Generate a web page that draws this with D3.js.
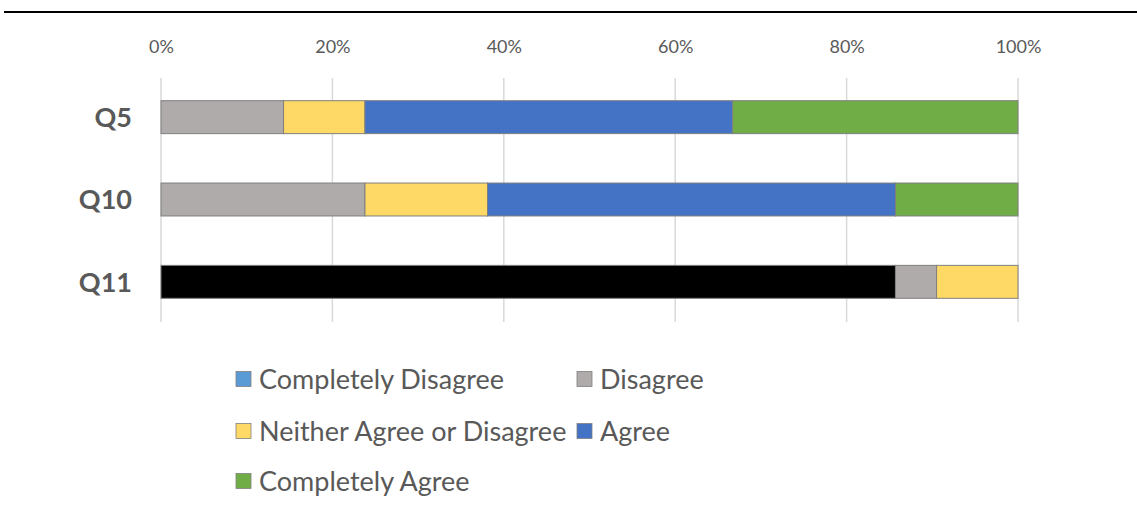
<!DOCTYPE html>
<html>
<head>
<meta charset="utf-8">
<script src="https://cdn.jsdelivr.net/npm/d3@7"></script>
<style>
  body { margin: 0; background: #fff; }
  svg { display: block; font-family: Lato, "Open Sans", sans-serif; }
</style>
</head>
<body>
<svg id="chart" width="1137" height="516"></svg>
<script>
// data (percent, n = 21)
const questions = ["Q5", "Q10", "Q11"];
const seriesNames = ["Completely Disagree", "Disagree", "Neither Agree or Disagree", "Agree", "Completely Agree"];
const completelyDisagree = [0, 0, 85.7];
const disagree = [14.3, 23.8, 4.8];
const neither = [9.5, 14.3, 9.5];
const agree = [42.9, 47.6, 0];
const completelyAgree = [33.3, 14.3, 0];
const tickValues = [0, 20, 40, 60, 80, 100];

const colors = ["#5B9BD5", "#AFABAB", "#FFD966", "#4472C4", "#70AD47"];
// Q11 "Completely Disagree" point was recoloured black in the original
const pointOverride = { "0-Q11": "#000000" };

const svg = d3.select("#chart");
const width = 1137, height = 516;

// top rule
svg.append("line")
  .attr("x1", 4).attr("x2", width).attr("y1", 12).attr("y2", 12)
  .attr("stroke", "#000").attr("stroke-width", 2);

const x = d3.scaleLinear().domain([0, 100]).range([161, 1018]);
const y = d3.scaleBand().domain(questions).range([76, 323]).paddingInner(0.6).paddingOuter(0.3);

// gridlines
svg.append("g")
  .selectAll("line")
  .data(tickValues)
  .join("line")
  .attr("x1", d => x(d)).attr("x2", d => x(d))
  .attr("y1", 78).attr("y2", 322)
  .attr("stroke", "#d9d9d9").attr("stroke-width", 1.5);

// top axis labels
const axis = svg.append("g")
  .attr("transform", "translate(0,53)")
  .call(d3.axisTop(x).tickValues(tickValues).tickFormat(d => d + "%").tickSize(0).tickPadding(0));
axis.select(".domain").remove();
axis.attr("font-size", 18).attr("font-family", "Lato, 'Open Sans', sans-serif");
axis.selectAll("text").attr("fill", "#595959");

// stacked bars
const rows = questions.map((q, i) => ({
  q: q,
  v: [completelyDisagree[i], disagree[i], neither[i], agree[i], completelyAgree[i]]
}));
const stack = d3.stack().keys(d3.range(seriesNames.length)).value((d, k) => d.v[k]);
const layers = stack(rows);

svg.append("g")
  .selectAll("g")
  .data(layers)
  .join("g")
  .selectAll("rect")
  .data(layer => layer.map(p => ({ key: layer.key, p: p })))
  .join("rect")
  .filter(d => d.p[1] - d.p[0] > 0)
  .attr("x", d => x(d.p[0]))
  .attr("width", d => x(d.p[1]) - x(d.p[0]))
  .attr("y", d => y(d.p.data.q))
  .attr("height", y.bandwidth())
  .attr("fill", d => pointOverride[d.key + "-" + d.p.data.q] || colors[d.key])
  .attr("stroke", "#7f7f7f")
  .attr("stroke-width", 1);

// category labels
svg.append("g")
  .selectAll("text")
  .data(questions)
  .join("text")
  .attr("x", 132)
  .attr("y", d => y(d) + y.bandwidth() / 2)
  .attr("dy", "0.36em")
  .attr("text-anchor", "end")
  .attr("font-size", 27)
  .attr("font-weight", "bold")
  .attr("fill", "#595959")
  .text(d => d);

// legend
const legendPos = [
  [236, 379], [577, 379],
  [236, 431], [577, 431],
  [236, 481]
];
const legend = svg.append("g")
  .selectAll("g")
  .data(seriesNames)
  .join("g")
  .attr("transform", (d, i) => `translate(${legendPos[i][0]},${legendPos[i][1]})`);
legend.append("rect")
  .attr("x", 0).attr("y", -7.5)
  .attr("width", 15).attr("height", 15)
  .attr("fill", (d, i) => colors[i])
  .attr("stroke", "#7f7f7f").attr("stroke-width", 0.8);
legend.append("text")
  .attr("x", 23)
  .attr("dy", "0.36em")
  .attr("font-size", 27)
  .attr("fill", "#595959")
  .text(d => d);
</script>
</body>
</html>
